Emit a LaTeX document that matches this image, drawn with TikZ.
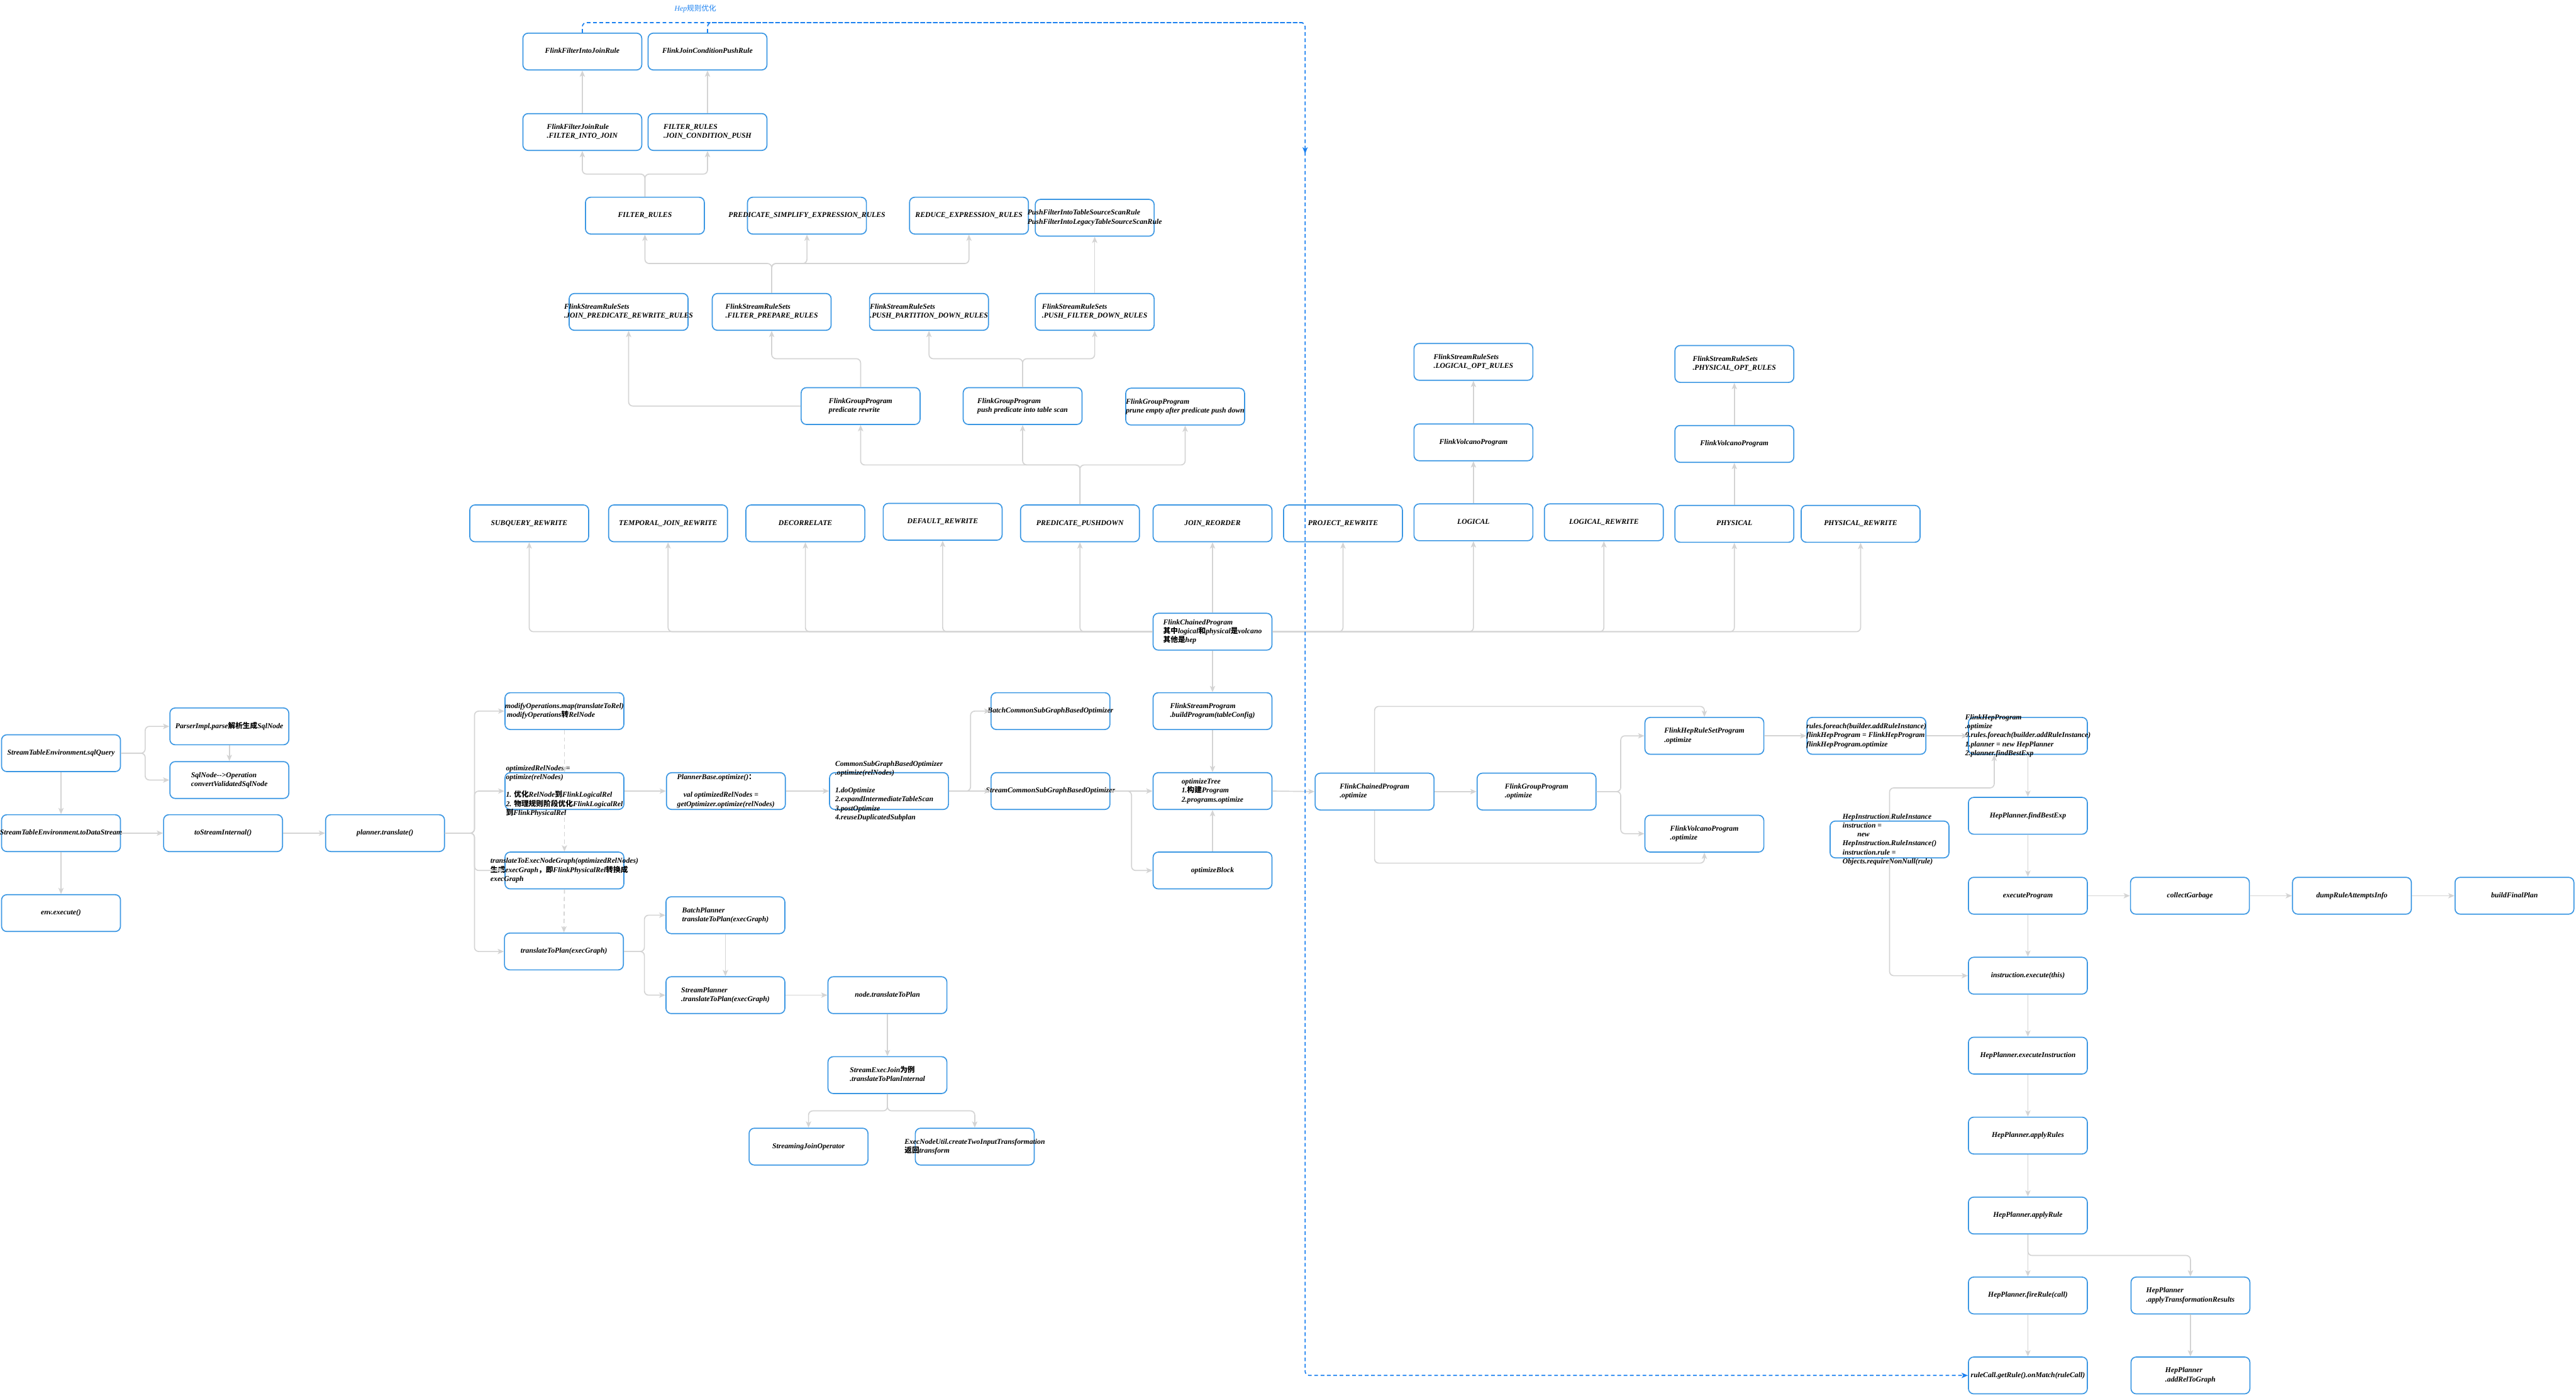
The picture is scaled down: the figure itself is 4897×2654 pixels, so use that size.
\documentclass[tikz,border=0pt]{standalone}
\usepackage{fontspec}
\setmainfont{Liberation Serif}
\newfontfamily\cjk{Noto Sans CJK SC}
\usetikzlibrary{arrows.meta,calc}
\definecolor{boxblue}{HTML}{3B97E3}
\definecolor{lineg}{HTML}{D4D4D4}
\definecolor{dblue}{HTML}{1A80F0}
\newcommand\zh[1]{{\cjk #1}}
\newcommand\tx[1]{\makebox[0pt]{\raisebox{-0.25em}[0pt][0pt]{\begin{tabular}{@{}l@{}}#1\end{tabular}}}}
\begin{document}
\begin{tikzpicture}[x=1pt,y=-1pt,
  nbox/.style={draw=boxblue, line width=2pt, rounded corners=10pt, fill=white,
    minimum width=226pt, minimum height=70pt, inner sep=0pt,
    font=\fontsize{14}{17}\selectfont\bfseries\itshape},
  conn/.style={draw=lineg, line width=2pt, rounded corners=8pt,
    -{Stealth[length=12pt,width=10pt,inset=3pt]}},
  dconn/.style={conn, dash pattern=on 8pt off 6pt},
  bdash/.style={draw=dblue, line width=2pt, dash pattern=on 7pt off 5pt, rounded corners=8pt},
  ]
\useasboundingbox (0,0) rectangle (4897,2654);

% ---------- top area ----------
\node[font=\fontsize{14}{17}\selectfont\itshape, text=dblue] (hl) at (1322,17) {Hep\zh{规则优化}};
\node[nbox] (fij) at (1107,98) {\tx{FlinkFilterIntoJoinRule}};
\node[nbox] (jcp) at (1345,98) {\tx{FlinkJoinConditionPushRule}};
\node[nbox] (fijr) at (1107,251) {\tx{FlinkFilterJoinRule\\.FILTER\_INTO\_JOIN}};
\node[nbox] (jcpr) at (1345,251) {\tx{FILTER\_RULES\\.JOIN\_CONDITION\_PUSH}};
\node[nbox] (fr) at (1226,410) {\tx{FILTER\_RULES}};
\node[nbox] (pse) at (1534,410) {\tx{PREDICATE\_SIMPLIFY\_EXPRESSION\_RULES}};
\node[nbox] (rer) at (1842,410) {\tx{REDUCE\_EXPRESSION\_RULES}};
\node[nbox] (pft) at (2081,414) {\tx{PushFilterIntoTableSourceScanRule\\PushFilterIntoLegacyTableSourceScanRule}};
\node[nbox] (jprr) at (1195,593) {\tx{FlinkStreamRuleSets\\.JOIN\_PREDICATE\_REWRITE\_RULES}};
\node[nbox] (fpr) at (1467,593) {\tx{FlinkStreamRuleSets\\.FILTER\_PREPARE\_RULES}};
\node[nbox] (ppdr) at (1766,593) {\tx{FlinkStreamRuleSets\\.PUSH\_PARTITION\_DOWN\_RULES}};
\node[nbox] (pfdr) at (2081,593) {\tx{FlinkStreamRuleSets\\.PUSH\_FILTER\_DOWN\_RULES}};
\node[nbox] (gpr) at (1636,772) {\tx{FlinkGroupProgram\\predicate rewrite}};
\node[nbox] (gpp) at (1944,772) {\tx{FlinkGroupProgram\\push predicate into table scan}};
\node[nbox] (gpe) at (2253,773) {\tx{FlinkGroupProgram\\prune empty after predicate push down}};
\node[nbox] (lor) at (2801,688) {\tx{FlinkStreamRuleSets\\.LOGICAL\_OPT\_RULES}};
\node[nbox] (lvp) at (2801,841) {\tx{FlinkVolcanoProgram}};
\node[nbox] (por) at (3297,692) {\tx{FlinkStreamRuleSets\\.PHYSICAL\_OPT\_RULES}};
\node[nbox] (pvp) at (3297,844) {\tx{FlinkVolcanoProgram}};

% ---------- rewrite row ----------
\node[nbox] (sub) at (1006,995) {\tx{SUBQUERY\_REWRITE}};
\node[nbox] (tjr) at (1270,995) {\tx{TEMPORAL\_JOIN\_REWRITE}};
\node[nbox] (dec) at (1531,995) {\tx{DECORRELATE}};
\node[nbox] (drw) at (1792,992) {\tx{DEFAULT\_REWRITE}};
\node[nbox] (ppd) at (2053,995) {\tx{PREDICATE\_PUSHDOWN}};
\node[nbox] (jro) at (2305,995) {\tx{JOIN\_REORDER}};
\node[nbox] (prw) at (2553,995) {\tx{PROJECT\_REWRITE}};
\node[nbox] (lgc) at (2801,993) {\tx{LOGICAL}};
\node[nbox] (lrw) at (3049,993) {\tx{LOGICAL\_REWRITE}};
\node[nbox] (phy) at (3297,996) {\tx{PHYSICAL}};
\node[nbox] (prwr) at (3537,996) {\tx{PHYSICAL\_REWRITE}};
\node[nbox] (chp) at (2305,1201) {\tx{FlinkChainedProgram\\\zh{其中}logical\zh{和}physical\zh{是}volcano\\\zh{其他是}hep}};

% ---------- left / middle ----------
\node[nbox] (sq) at (116,1432) {\tx{StreamTableEnvironment.sqlQuery}};
\node[nbox] (pi) at (436,1381) {\tx{ParserImpl.parse\zh{解析生成}SqlNode}};
\node[nbox] (so) at (436,1483) {\tx{SqlNode-{}->Operation\\convertValidatedSqlNode}};
\node[nbox] (tds) at (116,1584) {\tx{StreamTableEnvironment.toDataStream}};
\node[nbox] (tsi) at (424,1584) {\tx{toStreamInternal()}};
\node[nbox] (pt) at (732,1584) {\tx{planner.translate()}};
\node[nbox] (ee) at (116,1736) {\tx{env.execute()}};
\node[nbox] (mo) at (1073,1352) {\tx{modifyOperations.map(translateToRel)\\\ modifyOperations\zh{转}RelNode}};
\node[nbox] (opt) at (1073,1504) {\tx{optimizedRelNodes =\\optimize(relNodes)\\ \\1. \zh{优化}RelNode\zh{到}FlinkLogicalRel\\2. \zh{物理规则阶段优化}FlinkLogicalRel\\\zh{到}FlinkPhysicalRel}};
\node[nbox] (teg) at (1073,1655) {\tx{translateToExecNodeGraph(optimizedRelNodes)\\\zh{生成}execGraph\zh{，即}FlinkPhysicalRel\zh{转换成}\\execGraph}};
\node[nbox] (ttp) at (1072,1809) {\tx{translateToPlan(execGraph)}};
\node[nbox] (pbo) at (1380,1504) {\tx{PlannerBase.optimize()\zh{：}\\ \\\hspace{12pt}val optimizedRelNodes =\\getOptimizer.optimize(relNodes)}};
\node[nbox] (csg) at (1690,1504) {\tx{CommonSubGraphBasedOptimizer\\.optimize(relNodes)\\ \\1.doOptimize\\2.expandIntermediateTableScan\\3.postOptimize\\4.reuseDuplicatedSubplan}};
\node[nbox] (bcs) at (1997,1352) {\tx{BatchCommonSubGraphBasedOptimizer}};
\node[nbox] (scs) at (1997,1504) {\tx{StreamCommonSubGraphBasedOptimizer}};
\node[nbox] (fsp) at (2305,1352) {\tx{FlinkStreamProgram\\.buildProgram(tableConfig)}};
\node[nbox] (ot) at (2305,1504) {\tx{optimizeTree\\1.\zh{构建}Program\\2.programs.optimize}};
\node[nbox] (ob) at (2305,1655) {\tx{optimizeBlock}};
\node[nbox] (bp) at (1379,1740) {\tx{BatchPlanner\\translateToPlan(execGraph)}};
\node[nbox] (sp) at (1379,1892) {\tx{StreamPlanner\\.translateToPlan(execGraph)}};
\node[nbox] (ntp) at (1687,1892) {\tx{node.translateToPlan}};
\node[nbox] (sej) at (1687,2044) {\tx{StreamExecJoin\zh{为例}\\.translateToPlanInternal}};
\node[nbox] (sjo) at (1537,2180) {\tx{StreamingJoinOperator}};
\node[nbox] (enu) at (1853,2180) {\tx{ExecNodeUtil.createTwoInputTransformation\\\zh{返回}transform}};

% ---------- right ----------
\node[nbox] (cpo) at (2613,1505) {\tx{FlinkChainedProgram\\.optimize}};
\node[nbox] (gpo) at (2921,1505) {\tx{FlinkGroupProgram\\.optimize}};
\node[nbox] (hrs) at (3240,1399) {\tx{FlinkHepRuleSetProgram\\.optimize}};
\node[nbox] (vpo) at (3240,1585) {\tx{FlinkVolcanoProgram\\.optimize}};
\node[nbox] (rfe) at (3548,1399) {\tx{rules.foreach(builder.addRuleInstance)\\flinkHepProgram = FlinkHepProgram\\flinkHepProgram.optimize}};
\node[nbox] (fhp) at (3855,1399) {\tx{FlinkHepProgram\\.optimize\\0.rules.foreach(builder.addRuleInstance)\\1.planner = new HepPlanner\\2.planner.findBestExp}};
\node[nbox] (hir) at (3592,1596) {\tx{HepInstruction.RuleInstance\\instruction =\\\hspace{28pt}new\\HepInstruction.RuleInstance()\\instruction.rule =\\Objects.requireNonNull(rule)}};
\node[nbox] (fbe) at (3855,1551) {\tx{HepPlanner.findBestExp}};
\node[nbox] (ep) at (3855,1703) {\tx{executeProgram}};
\node[nbox] (cg) at (4163,1703) {\tx{collectGarbage}};
\node[nbox] (dra) at (4471,1703) {\tx{dumpRuleAttemptsInfo}};
\node[nbox] (bfp) at (4780,1703) {\tx{buildFinalPlan}};
\node[nbox] (ie) at (3855,1855) {\tx{instruction.execute(this)}};
\node[nbox] (hei) at (3855,2007) {\tx{HepPlanner.executeInstruction}};
\node[nbox] (hars) at (3855,2159) {\tx{HepPlanner.applyRules}};
\node[nbox] (har) at (3855,2311) {\tx{HepPlanner.applyRule}};
\node[nbox] (hfr) at (3855,2463) {\tx{HepPlanner.fireRule(call)}};
\node[nbox] (rc) at (3855,2615) {\tx{ruleCall.getRule().onMatch(ruleCall)}};
\node[nbox] (hatr) at (4164,2463) {\tx{HepPlanner\\.applyTransformationResults}};
\node[nbox] (hart) at (4164,2615) {\tx{HepPlanner\\.addRelToGraph}};

% ---------- connectors: top area ----------
\draw[conn] (fijr.north) -- (fij.south);
\draw[conn] (jcpr.north) -- (jcp.south);
\draw[conn] (fr.north) -- (fr.north |- 0,331) -| (fijr.south);
\draw[conn] (fr.north) -- (fr.north |- 0,331) -| (jcpr.south);
\draw[conn] (fpr.north) -- (fpr.north |- 0,501) -| (fr.south);
\draw[conn] (fpr.north) -- (fpr.north |- 0,501) -| (pse.south);
\draw[conn] (fpr.north) -- (fpr.north |- 0,501) -| (rer.south);
\draw[conn] (pfdr.north) -- (pft.south);
\draw[conn] (gpr.north) -- (gpr.north |- 0,682) -| (fpr.south);
\draw[conn] (gpr.west) -| (jprr.south);
\draw[conn] (gpp.north) -- (gpp.north |- 0,682) -| (ppdr.south);
\draw[conn] (gpp.north) -- (gpp.north |- 0,682) -| (pfdr.south);
\draw[conn] (ppd.north) -- (ppd.north |- 0,884) -| (gpr.south);
\draw[conn] (ppd.north) -- (ppd.north |- 0,884) -| (gpp.south);
\draw[conn] (ppd.north) -- (ppd.north |- 0,884) -| (gpe.south);
\foreach \t in {sub,tjr,dec,drw,ppd} \draw[conn] (chp.west) -| (\t.south);
\foreach \t in {prw,lgc,lrw,phy,prwr} \draw[conn] (chp.east) -| (\t.south);
\draw[conn] (chp.north) -- (jro.south);
\draw[conn] (lgc.north) -- (lvp.south);
\draw[conn] (lvp.north) -- (lor.south);
\draw[conn] (phy.north) -- (pvp.south);
\draw[conn] (pvp.north) -- (por.south);
\draw[conn] (chp.south) -- (fsp.north);

% ---------- connectors: left / middle ----------
\draw[conn] (sq.east) -- ++(46,0) |- (pi.west);
\draw[conn] (sq.east) -- ++(46,0) |- (so.west);
\draw[conn] (pi.south) -- (so.north);
\draw[conn] (sq.south) -- (tds.north);
\draw[conn] (tds.south) -- (ee.north);
\draw[conn] (tds.east) -- (tsi.west);
\draw[conn] (tsi.east) -- (pt.west);
\foreach \t in {mo,opt,teg,ttp} \draw[conn] (pt.east) -- ++(56,0) |- (\t.west);
\draw[dconn] (mo.south) -- (opt.north);
\draw[dconn] (opt.south) -- (teg.north);
\draw[dconn] (teg.south) -- (ttp.north);
\draw[conn] (opt.east) -- (pbo.west);
\draw[conn] (pbo.east) -- (csg.west);
\draw[conn] (csg.east) -- ++(41,0) |- (bcs.west);
\draw[conn] (csg.east) -- (scs.west);
\draw[conn] (scs.east) -- (ot.west);
\draw[conn] (scs.east) -- ++(40,0) |- (ob.west);
\draw[conn] (fsp.south) -- (ot.north);
\draw[conn] (ob.north) -- (ot.south);
\draw[conn] (ttp.east) -- ++(39,0) |- (bp.west);
\draw[conn] (ttp.east) -- ++(39,0) |- (sp.west);
\draw[conn] (bp.south) -- (sp.north);
\draw[conn] (sp.east) -- (ntp.west);
\draw[conn] (ntp.south) -- (sej.north);
\draw[conn] (sej.south) -- (sej.south |- 0,2112) -| (sjo.north);
\draw[conn] (sej.south) -- (sej.south |- 0,2112) -| (enu.north);

% ---------- connectors: right ----------
\draw[conn] (ot.east) -- (cpo.west);
\draw[conn] (cpo.east) -- (gpo.west);
\draw[conn] (gpo.east) -- ++(46,0) |- (hrs.west);
\draw[conn] (gpo.east) -- ++(46,0) |- (vpo.west);
\draw[conn] (cpo.north) -- (cpo.north |- 0,1343) -| (hrs.north);
\draw[conn] (cpo.south) -- (cpo.south |- 0,1641) -| (vpo.south);
\draw[conn] (hrs.east) -- (rfe.west);
\draw[conn] (rfe.east) -- (fhp.west);
\draw[conn] (hir.north) -- (hir.north |- 0,1498) -| ([xshift=-64pt]fhp.south);
\draw[conn] (hir.south) |- (ie.west);
\draw[conn] (fhp.south) -- (fbe.north);
\draw[conn] (fbe.south) -- (ep.north);
\draw[conn] (ep.east) -- (cg.west);
\draw[conn] (cg.east) -- (dra.west);
\draw[conn] (dra.east) -- (bfp.west);
\draw[conn] (ep.south) -- (ie.north);
\draw[conn] (ie.south) -- (hei.north);
\draw[conn] (hei.south) -- (hars.north);
\draw[conn] (hars.south) -- (har.north);
\draw[conn] (har.south) -- (hfr.north);
\draw[conn] (har.south) -- (har.south |- 0,2387) -| (hatr.north);
\draw[conn] (hfr.south) -- (rc.north);
\draw[conn] (hatr.south) -- (hart.north);

% ---------- blue dashed connector ----------
\coordinate (dtop) at (2481,43);
\coordinate (dbot) at (2481,2615);
\coordinate (darr) at (2481,292);
\draw[bdash] (jcp.north) |- (dtop);
\draw[bdash, -{Stealth[length=12pt,width=10pt,inset=3pt]}] (fij.north) |- (dtop) -- (dbot) -- (rc.west);
\draw[draw=dblue, line width=2pt, -{Stealth[length=12pt,width=10pt,inset=3pt]}] ([yshift=3pt]darr) -- (darr);
\end{tikzpicture}
\end{document}
